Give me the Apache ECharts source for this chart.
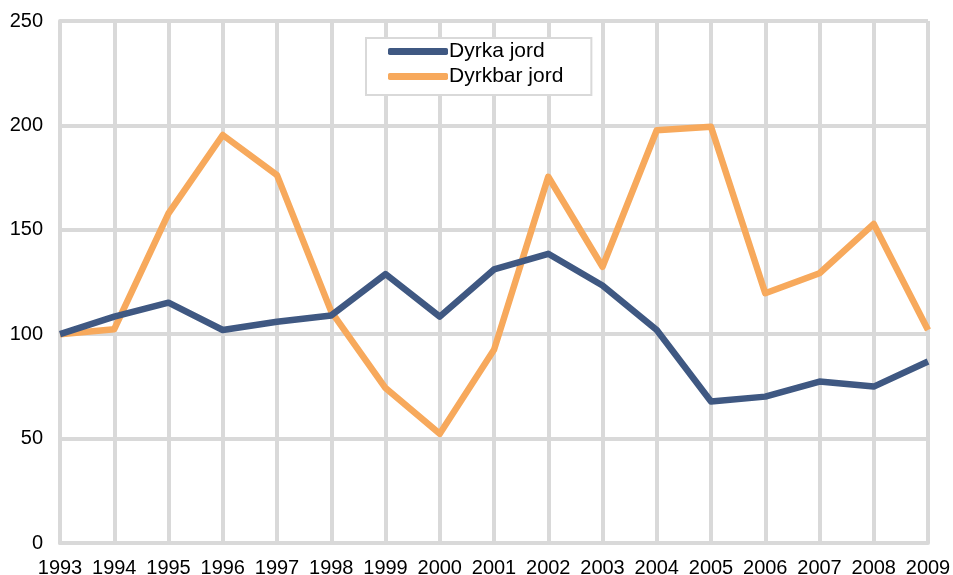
<!DOCTYPE html>
<html>
<head>
<meta charset="utf-8">
<script src="https://cdn.jsdelivr.net/npm/echarts@6/dist/echarts.min.js"></script>
<style>html,body{margin:0;padding:0;background:#fff}#c{width:953px;height:575px}</style>
</head>
<body>
<div id="c"></div>
<script>
const years = ['1993','1994','1995','1996','1997','1998','1999','2000','2001','2002','2003','2004','2005','2006','2007','2008','2009'];
const dyrkaJord = [100, 108.4, 115.1, 102, 106, 109, 128.8, 108.4, 131, 138.5, 123.3, 102, 67.8, 70.1, 77.3, 74.9, 86.9];
const dyrkbarJord = [100, 102.4, 157.9, 195.4, 176.2, 110.8, 74.2, 52.3, 92.5, 175.4, 132.3, 197.7, 199.3, 119.6, 129.2, 152.8, 102];
const seriesNames = ['Dyrka jord', 'Dyrkbar jord'];
const yTicks = {min: 0, max: 250, interval: 50};

const chart = echarts.init(document.getElementById('c'), null, {renderer: 'canvas'});
const gridColor = '#d9d9d9';
const font = 'Liberation Sans, Arial, sans-serif';
chart.setOption({
  animation: false,
  backgroundColor: '#ffffff',
  grid: {left: 60, right: 25, top: 21, bottom: 32, containLabel: false, outerBoundsMode: 'none'},
  legend: {
    orient: 'vertical',
    left: 366, top: 38,
    padding: [2, 28, 7, 22],
    itemGap: 2,
    itemWidth: 60, itemHeight: 7,
    icon: 'roundRect',
    borderColor: gridColor, borderWidth: 2,
    backgroundColor: '#fff',
    textStyle: {fontFamily: font, fontSize: 21, lineHeight: 13, color: '#000', padding: [10, 0, 0, -4]},
    data: seriesNames
  },
  xAxis: {
    type: 'category',
    data: years,
    boundaryGap: false,
    axisLine: {show: true, lineStyle: {color: gridColor, width: 4}},
    axisTick: {show: false},
    splitLine: {show: true, lineStyle: {color: gridColor, width: 4}},
    axisLabel: {fontFamily: font, fontSize: 20, color: '#000', margin: 15, interval: 0}
  },
  yAxis: {
    type: 'value',
    min: yTicks.min, max: yTicks.max, interval: yTicks.interval,
    axisLine: {show: true, lineStyle: {color: gridColor, width: 4}},
    axisTick: {show: false},
    splitLine: {show: true, lineStyle: {color: gridColor, width: 4}},
    axisLabel: {fontFamily: font, fontSize: 20, color: '#000', margin: 17}
  },
  series: [
    {name: seriesNames[0], type: 'line', data: dyrkaJord, showSymbol: false, symbol: 'none',
     lineStyle: {color: '#3f5882', width: 6.5, join: 'round'}, itemStyle: {color: '#3f5882'}, z: 3},
    {name: seriesNames[1], type: 'line', data: dyrkbarJord, showSymbol: false, symbol: 'none',
     lineStyle: {color: '#f7a95c', width: 6.5, join: 'round'}, itemStyle: {color: '#f7a95c'}, z: 2}
  ]
});
</script>
</body>
</html>
